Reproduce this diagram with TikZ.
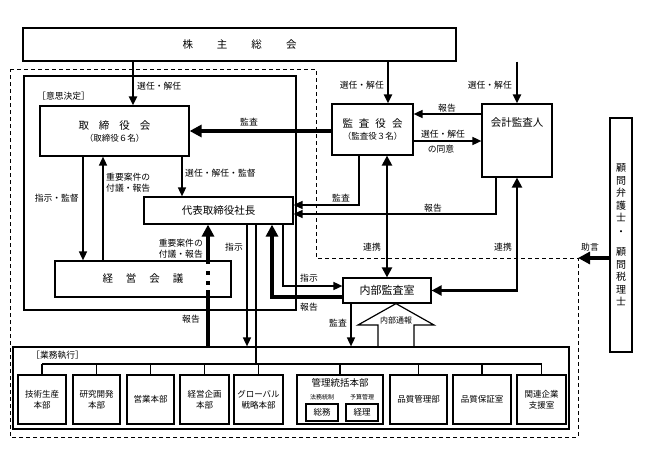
\documentclass[tikz,border=0pt]{standalone}
\usepackage{fontspec}
\setmainfont{Noto Sans CJK JP}
\usetikzlibrary{arrows.meta,positioning}

\begin{document}
\begin{tikzpicture}[
    x=1pt, y=-1pt,
    block/.style={
      draw,
      line width=1.2pt,
      inner sep=0pt,
      align=center,
      font=\fontsize{10.5}{12}\selectfont
    },
    dept/.style={
      draw,
      line width=1.2pt,
      inner sep=0pt,
      align=center,
      minimum height=49pt,
      font=\fontsize{8.5}{11}\selectfont
    },
    lbl/.style={inner sep=0pt, align=center, font=\fontsize{8.8}{11}\selectfont},
    arrow/.style={-{Triangle[length=9pt,width=8pt]}, line width=1.6pt},
    barrow/.style={-{Triangle[length=12pt,width=12pt]}, line width=4pt},
    twoway/.style={{Triangle[length=10pt,width=10pt]}-{Triangle[length=10pt,width=10pt]}, line width=2.2pt},
    link/.style={line width=1.4pt}
  ]
    \useasboundingbox (0,0) rectangle (648,458);

    % dashed frame
    \coordinate (corner) at (578,258);
    \draw[line width=1pt, dash pattern=on 4pt off 3pt]
      (10,69) -- (316,69) -- (316,258) -- (corner) -- (578,437) -- (10,437) -- cycle;

    % boxes
    \node[block, minimum width=433pt, minimum height=33pt] (kabu) at (239.5,44.5)
      {株\hspace{24pt}主\hspace{24pt}総\hspace{24pt}会};
    \node[block, minimum width=272pt, minimum height=234pt] (ishi) at (160,193) {};
    \node[lbl, anchor=west] (ishit) at (37,96) {［意思決定］};
    \node[block, minimum width=149pt, minimum height=50pt] (torishimari) at (114.5,131)
      {取\hspace{10pt}締\hspace{10pt}役\hspace{10pt}会\\{\fontsize{8.5}{10}\selectfont （取締役６名）}};
    \node[block, minimum width=81pt, minimum height=51pt] (kansa) at (372.5,129.5)
      {監\hspace{6pt}査\hspace{6pt}役\hspace{6pt}会\\{\fontsize{8.5}{10}\selectfont （監査役３名）}};
    \node[block, minimum width=70pt, minimum height=73pt] (kaikei) at (517,140.5) {};
    \node[block, draw=none] (kaikeit) at (517,123) {会計監査人};
    \node[block, minimum width=149pt, minimum height=27pt] (daihyo) at (218.5,210.5) {代表取締役社長};
    \node[block, minimum width=176pt, minimum height=36pt] (keiei) at (143,279)
      {経\hspace{13pt}営\hspace{13pt}会\hspace{13pt}議};
    \node[block, minimum width=88pt, minimum height=25pt, font=\fontsize{11}{13}\selectfont] (naibu) at (387,290.5) {内部監査室};
    \node[block, minimum width=22pt, minimum height=234pt, font=\fontsize{10}{12.5}\selectfont] (komon) at (621,235)
      {顧\\問\\弁\\護\\士\\[1.5pt]・\\[7.5pt]顧\\問\\税\\理\\士};

    % business execution
    \node[block, minimum width=556pt, minimum height=82pt] (gyomu) at (291,388) {};
    \node[lbl, anchor=west] (gyomut) at (31,355) {［業務執行］};
    \node[dept, minimum width=48pt] (gijutsu) at (42,399.5) {技術生産\\本部};
    \node[dept, minimum width=47pt] (kenkyu) at (96.5,399.5) {研究開発\\本部};
    \node[dept, minimum width=47pt] (eigyo) at (150.5,399.5) {営業本部};
    \node[dept, minimum width=49pt] (kikaku) at (204.5,399.5) {経営企画\\本部};
    \node[dept, minimum width=49pt] (global) at (258.5,399.5) {グローバル\\戦略本部};
    \node[dept, minimum width=86pt] (kanri) at (340,399.5) {};
    \node[dept, minimum width=57pt] (hinkan) at (418.5,399.5) {品質管理部};
    \node[dept, minimum width=58pt] (hinsho) at (482,399.5) {品質保証室};
    \node[dept, minimum width=49pt] (kanren) at (541.5,399.5) {関連企業\\支援室};
    \node[lbl, font=\fontsize{9.5}{11}\selectfont] (kanrit) at (340,383) {管理統括本部};
    \node[lbl, font=\fontsize{6}{7}\selectfont] (homut) at (322,397) {法務統制};
    \node[lbl, font=\fontsize{6}{7}\selectfont] (yosant) at (362,397) {予算管理};
    \node[block, minimum width=32pt, minimum height=17pt, font=\fontsize{8.5}{10}\selectfont] (somu) at (322,412.5) {総務};
    \node[block, minimum width=32pt, minimum height=17pt, font=\fontsize{8.5}{10}\selectfont] (keiri) at (362,412.5) {経理};

    \coordinate (bus) at (0,364);
    \draw[link] (gijutsu.north |- bus) -- (kanren.north |- bus);
    \foreach \d in {gijutsu,kenkyu,eigyo,kikaku,global,kanri,hinkan,hinsho,kanren}
      \draw[link] (\d.north |- bus) -- (\d.north);
    \draw[link] (daihyo.south -| 256,0) -- (bus -| 256,0);

    % shareholders
    \draw[arrow, line width=2pt] (kabu.south -| 133,0) -- (torishimari.north -| 133,0);
    \draw[arrow, line width=2pt] (kabu.south -| 388,0) -- (kansa.north -| 388,0);
    \draw[arrow, line width=2pt] (kabu.south -| kaikei.north) -- (kaikei.north);
    \node[lbl, anchor=west] (sen1) at (137,86) {選任・解任};
    \node[lbl, anchor=east] (sen2) at (384,85) {選任・解任};
    \node[lbl, anchor=east] (sen3) at (512,85) {選任・解任};

    % auditors
    \draw[arrow] (kaikei.west |- 0,114) -- (kansa.east |- 0,114);
    \draw[arrow] (kansa.east |- 0,141) -- (kaikei.west |- 0,141);
    \node[lbl] (hok1) at (447,108) {報告};
    \node[lbl] (sen4) at (443,134) {選任・解任};
    \node[lbl] (doi) at (441,149) {の同意};
    \draw[barrow] (kansa.west |- torishimari.east) -- (torishimari.east);
    \node[lbl] (kan1) at (249,122) {監査};
    \draw[arrow] (kansa.south -| 359,0) |- (daihyo.east |- 0,205);
    \draw[arrow] (kaikei.south -| 496,0) |- (daihyo.east |- 0,214);
    \node[lbl] (kan2) at (341,198) {監査};
    \node[lbl] (hok2) at (433,208) {報告};

    % board
    \draw[arrow] (torishimari.south -| 182,0) -- (daihyo.north -| 182,0);
    \node[lbl, anchor=west] (sen5) at (185,173) {選任・解任・監督};
    \draw[arrow] (torishimari.south -| 83,0) -- (keiei.north -| 83,0);
    \draw[arrow] (keiei.north -| 103,0) -- (torishimari.south -| 103,0);
    \node[lbl, anchor=east] (shi1) at (79,198) {指示・監督};
    \node[lbl, anchor=west] (fugi1) at (106,182.5) {重要案件の\\付議・報告};

    % president
    \draw[barrow] (gyomu.north -| 208,0) -- (daihyo.south -| 208,0);
    \draw[white, line width=5pt, dash pattern=on 7pt off 4pt on 6pt off 4pt on 5pt]
      ([yshift=-4pt]keiei.north -| 208,0) -- ([yshift=6pt]keiei.south -| 208,0);
    \node[lbl, anchor=east] (fugi2) at (203,249) {重要案件の\\付議・報告};
    \node[lbl] (hok3) at (191,319) {報告};
    \draw[arrow] (daihyo.south -| 247,0) -- (gyomu.north -| 247,0);
    \node[lbl] (shi2) at (234,247) {指示};
    \draw[barrow] (naibu.west |- 0,297) -| (daihyo.south -| 272,0);
    \draw[arrow] (daihyo.south -| 283,0) |- (naibu.west |- 0,286);
    \node[lbl] (shi3) at (309,278) {指示};
    \node[lbl] (hok4) at (309,307) {報告};

    % internal audit
    \draw[twoway] (kansa.south -| naibu.north) -- (naibu.north);
    \draw[twoway] (kaikei.south) |- (naibu.east);
    \node[lbl] (ren1) at (372,247) {連携};
    \node[lbl] (ren2) at (503,247) {連携};
    \draw[arrow] (naibu.south -| 351,0) -- (gyomu.north -| 351,0);
    \node[lbl] (kan3) at (338,323) {監査};
    \draw[line width=1.2pt] (gyomu.north -| 378,0) -- (378,325) -- (358,325) -- (naibu.south -| 396,0)
      -- (434,325) -- (414,325) -- (gyomu.north -| 414,0);
    \node[lbl, font=\fontsize{8}{9}\selectfont] (tsuho) at (396,320) {内部通報};

    % advisers
    \draw[barrow] (komon.west |- corner) -- (corner);
    \node[lbl] (jogen) at (590,247) {助言};
  \end{tikzpicture}
\end{document}
